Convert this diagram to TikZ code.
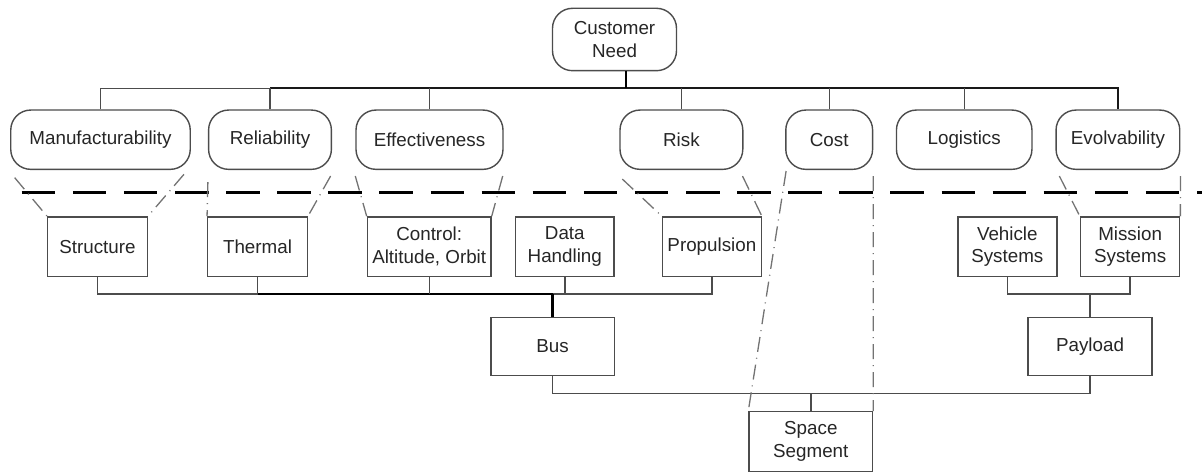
\documentclass[tikz,border=0pt]{standalone}
\usepackage{fontspec}
\setmainfont{Liberation Sans}
\newcommand{\boxfont}{\fontsize{18.8}{22.7}\selectfont}
\begin{document}
\begin{tikzpicture}[x=1pt, y=-1pt,
  rbox/.style={draw=black!70, fill=white, line width=1.4pt, rounded corners=20pt,
    minimum height=59.3pt, inner sep=0pt, align=center, font=\boxfont, text=black!85},
  sbox/.style={draw=black!70, fill=white, line width=1.4pt,
    minimum height=59.5pt, inner sep=0pt, align=center, font=\boxfont, text=black!85},
  link/.style={draw=black!70, line width=1.4pt},
  heavy/.style={draw=black, line width=2.6pt},
  guide/.style={draw=black!55, line width=1.3pt, dash pattern=on 15pt off 6pt on 1pt off 6pt},
  divider/.style={draw=black, line width=3.6pt, dash pattern=on 33.5pt off 17.6pt}]
\useasboundingbox (0,0) rectangle (1202,473);

% ---- levels ----
\node[rbox, minimum width=124pt, minimum height=62.4pt] (cn) at (614.5,39.5) {Customer\\Need};

\node[rbox, minimum width=179.5pt] (man) at (100.5,139.7) {Manufacturability};
\node[rbox, minimum width=122.8pt] (rel) at (270,139.7) {Reliability};
\node[rbox, minimum width=147pt]   (eff) at (429.5,139.7) {Effectiveness};
\node[rbox, minimum width=122.8pt] (risk) at (681.4,139.7) {Risk};
\node[rbox, minimum width=86.8pt]  (cost) at (829.2,139.7) {Cost};
\node[rbox, minimum width=135.5pt] (logi) at (964.2,139.7) {Logistics};
\node[rbox, minimum width=123.7pt] (evo) at (1117.9,139.7) {Evolvability};

\node[sbox, minimum width=99.5pt]  (str) at (97.5,246.7) {Structure};
\node[sbox, minimum width=99.5pt]  (thm) at (257.5,246.7) {Thermal};
\node[sbox, minimum width=123.6pt] (ctl) at (429.2,246.7) {Control:\\Altitude, Orbit};
\node[sbox, minimum width=98.7pt]  (dh)  at (564.8,246.7) {Data\\Handling};
\node[sbox, minimum width=98.6pt]  (prop) at (711.9,246.7) {Propulsion};
\node[sbox, minimum width=99pt]    (veh) at (1007.3,246.7) {Vehicle\\Systems};
\node[sbox, minimum width=99.1pt]  (mis) at (1130.1,246.7) {Mission\\Systems};

\node[sbox, minimum width=123.2pt, minimum height=58.4pt] (bus) at (552.6,346.5) {Bus};
\node[sbox, minimum width=124pt, minimum height=58.4pt]   (pay) at (1090,346.5) {Payload};

\node[sbox, minimum width=123.6pt, minimum height=60pt] (ss) at (810.8,441.7) {Space\\Segment};

% ---- tree connectors ----
\coordinate (tb) at (0,88.3);
\coordinate (bb) at (0,294);
\coordinate (lb) at (0,393.3);

\draw[link] (man.north) -- (man.north |- tb) -- (rel.north |- tb);
\draw[link, line width=1.8pt, draw=black!90] (rel.north |- tb) -- (evo.north |- tb) -- (evo.north);
\foreach \n in {rel,eff,risk,cost,logi}
  \draw[link] (\n.north) -- (\n.north |- tb);
\draw[heavy] ([xshift=11.5pt]cn.south) -- ([xshift=11.5pt]cn.south |- tb);

\draw[link] (str.south) -- (str.south |- bb) -- (thm.south |- bb);
\draw[heavy, line width=2.2pt] (thm.south |- bb) -- (bus.north |- bb);
\draw[link] (bus.north |- bb) -- (prop.south |- bb) -- (prop.south);
\foreach \n in {thm,ctl,dh}
  \draw[link] (\n.south) -- (\n.south |- bb);
\draw[heavy] (bus.north) -- (bus.north |- bb);

\draw[link] (veh.south) -- (veh.south |- bb) -- (mis.south |- bb) -- (mis.south);
\draw[link] (pay.north) -- (pay.north |- bb);

\draw[link] (bus.south) -- (bus.south |- lb) -- (pay.south |- lb) -- (pay.south);
\draw[link] (ss.north) -- (ss.north |- lb);

% ---- divider ----
\coordinate (dl) at (21.7,192.7);
\coordinate (dr) at (1202,192.7);
\draw[divider] (dl) -- (dr);

% ---- mapping guides ----
\draw[guide] ([shift={(4.6pt,-7.6pt)}]man.south west) -- (str.north west);
\draw[guide] ([shift={(-7pt,-4.3pt)}]man.south east) -- (str.north east);
\draw[guide] ([shift={(0pt,-12pt)}]rel.south west) -- (thm.north west);
\draw[guide] ([shift={(-1.5pt,-6pt)}]rel.south east) -- (thm.north east);
\draw[guide] ([shift={(0pt,-6pt)}]eff.south west) -- (ctl.north west);
\draw[guide] ([shift={(-1pt,-6pt)}]eff.south east) -- (ctl.north east);
\draw[guide] ([shift={(3pt,-9pt)}]risk.south west) -- (prop.north west);
\draw[guide] ([shift={(-1pt,-6pt)}]risk.south east) -- (prop.north east);
\draw[guide] ([shift={(1pt,-1pt)}]cost.south west) -- (ss.north west);
\draw[guide] ([shift={(0pt,-6pt)}]cost.south east) -- (ss.north east);
\draw[guide] ([shift={(4pt,-6pt)}]evo.south west) -- (mis.north west);
\draw[guide] ([shift={(0pt,-6pt)}]evo.south east) -- (mis.north east);
\end{tikzpicture}
\end{document}
